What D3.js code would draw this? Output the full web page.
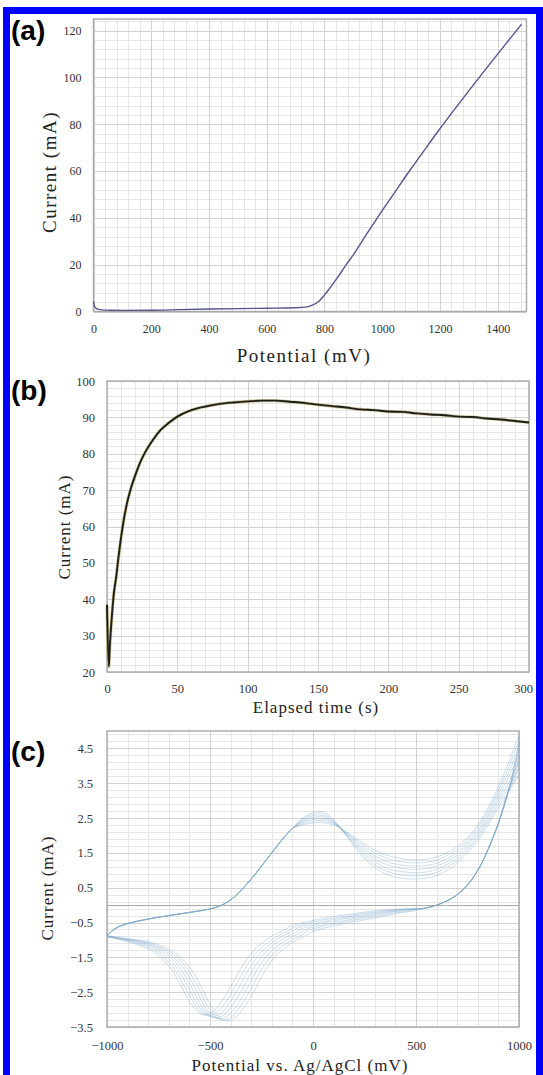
<!DOCTYPE html>
<html><head><meta charset="utf-8">
<script src="https://cdn.jsdelivr.net/npm/d3@7"></script>
<style>body{margin:0;background:#fff}svg{display:block}</style>
</head><body>
<svg id="chart" width="543" height="1075"></svg>
<script>
// ---------- Panel (a): linear sweep ----------
const potA = [0, 3, 8, 15, 30, 60, 100, 200, 300, 400, 500, 600, 700, 740, 760, 780, 800, 820, 840, 860, 880, 900, 950, 1000, 1050, 1100, 1150, 1200, 1250, 1300, 1350, 1400, 1483];
const curA = [4.2, 2.5, 1.5, 1.0, 0.7, 0.55, 0.5, 0.55, 0.8, 1.05, 1.25, 1.4, 1.6, 2.0, 2.8, 4.3, 7.0, 10.2, 13.6, 17.2, 20.8, 24.2, 33.8, 43.1, 52.1, 61.0, 69.6, 78.1, 86.3, 94.3, 102.2, 110.0, 122.8];
const aXTicks = [0, 200, 400, 600, 800, 1000, 1200, 1400];
const aYTicks = [0, 20, 40, 60, 80, 100, 120];

// ---------- Panel (b): chronoamperometry ----------
const timeB = [0, 1.3, 2, 3, 4, 5, 6.5, 8, 10, 12, 14, 17, 20, 24, 28, 33, 38, 44, 50, 60, 70, 80, 90, 100, 110, 120, 130, 140, 150, 160, 170, 180, 190, 200, 210, 220, 230, 240, 250, 260, 270, 280, 290, 300];
const curB = [38.5, 21.5, 27, 33, 38, 42, 46, 51, 57, 62, 66, 70.5, 74, 78, 81, 84, 86.5, 88.5, 90.2, 92, 93, 93.7, 94.1, 94.4, 94.6, 94.6, 94.3, 94.0, 93.5, 93.1, 92.7, 92.2, 92.0, 91.6, 91.5, 91.1, 90.8, 90.6, 90.2, 90.1, 89.7, 89.4, 89.0, 88.6];
const bXTicks = [0, 50, 100, 150, 200, 250, 300];
const bYTicks = [20, 30, 40, 50, 60, 70, 80, 90, 100];

// ---------- Panel (c): cyclic voltammetry (7 cycles) ----------
const fwdCommonX = [-1000, -975, -950, -900, -850, -800, -700, -600, -500, -450, -400, -350, -300, -250, -200, -150, -100];
const fwdCommonY = [-0.88, -0.74, -0.64, -0.53, -0.46, -0.40, -0.30, -0.21, -0.11, -0.02, 0.15, 0.42, 0.75, 1.12, 1.50, 1.88, 2.20];
const fwdCycleX = [-50, 0, 30, 60, 100, 150, 200, 250, 300, 350, 400, 450, 500, 550, 600, 650, 700, 750, 800, 850, 900, 950, 1000];
const fwdCycle1 = [2.50, 2.66, 2.70, 2.65, 2.45, 2.08, 1.68, 1.33, 1.08, 0.90, 0.80, 0.76, 0.75, 0.77, 0.85, 0.99, 1.20, 1.50, 1.85, 2.30, 2.80, 3.25, 3.75];
const fwdCycle2 = [2.47, 2.61, 2.65, 2.60, 2.43, 2.09, 1.73, 1.40, 1.16, 0.99, 0.90, 0.85, 0.84, 0.86, 0.94, 1.08, 1.28, 1.58, 1.93, 2.38, 2.90, 3.39, 3.93];
const fwdCycle3 = [2.43, 2.56, 2.59, 2.55, 2.40, 2.10, 1.77, 1.47, 1.25, 1.08, 0.99, 0.95, 0.93, 0.95, 1.03, 1.16, 1.36, 1.65, 2.00, 2.47, 3.00, 3.53, 4.12];
const fwdCycle4 = [2.40, 2.51, 2.54, 2.51, 2.38, 2.12, 1.82, 1.54, 1.33, 1.18, 1.09, 1.04, 1.03, 1.05, 1.12, 1.25, 1.44, 1.73, 2.08, 2.55, 3.10, 3.68, 4.30];
const fwdCycle5 = [2.37, 2.46, 2.48, 2.46, 2.35, 2.13, 1.86, 1.61, 1.41, 1.27, 1.18, 1.13, 1.12, 1.14, 1.20, 1.33, 1.52, 1.80, 2.15, 2.63, 3.20, 3.82, 4.48];
const fwdCycle6 = [2.33, 2.41, 2.43, 2.41, 2.33, 2.14, 1.91, 1.68, 1.50, 1.36, 1.28, 1.23, 1.21, 1.23, 1.29, 1.42, 1.60, 1.88, 2.23, 2.72, 3.30, 3.96, 4.67];
const fwdCycle7 = [2.30, 2.36, 2.37, 2.36, 2.30, 2.15, 1.95, 1.75, 1.58, 1.45, 1.37, 1.32, 1.30, 1.32, 1.38, 1.50, 1.68, 1.95, 2.30, 2.80, 3.40, 4.10, 4.85];
const revCommonX = [950, 900, 850, 800, 750, 700, 650, 600, 550];
const revCommonY = [3.30, 2.35, 1.60, 1.00, 0.58, 0.30, 0.12, 0.00, -0.08];
const revCycle1X = [500, 400, 300, 200, 100, 0, -30, -80, -130, -180, -230, -280, -330, -380, -430, -480, -530, -580, -630, -680, -780, -900, -1000];
const revCycle1Y = [-0.15, -0.25, -0.37, -0.48, -0.60, -0.75, -0.86, -1.00, -1.20, -1.45, -1.85, -2.40, -2.90, -3.25, -3.32, -3.05, -2.50, -1.95, -1.58, -1.33, -1.08, -0.96, -0.88];
const revCycle2X = [482, 382, 282, 182, 82, -18, -48, -98, -148, -198, -248, -298, -348, -398, -448, -498, -548, -598, -648, -698, -798, -918, -1000];
const revCycle2Y = [-0.15, -0.24, -0.35, -0.45, -0.57, -0.72, -0.84, -0.98, -1.18, -1.43, -1.83, -2.37, -2.87, -3.22, -3.29, -3.02, -2.48, -1.94, -1.57, -1.33, -1.08, -0.96, -0.88];
const revCycle3X = [464, 364, 264, 164, 64, -36, -66, -116, -166, -216, -266, -316, -366, -416, -466, -516, -566, -616, -666, -716, -816, -936, -1000];
const revCycle3Y = [-0.14, -0.22, -0.33, -0.43, -0.55, -0.70, -0.81, -0.95, -1.15, -1.40, -1.80, -2.34, -2.84, -3.19, -3.26, -2.99, -2.45, -1.92, -1.56, -1.32, -1.08, -0.96, -0.89];
const revCycle4X = [446, 346, 246, 146, 46, -54, -84, -134, -184, -234, -284, -334, -384, -434, -484, -534, -584, -634, -684, -734, -834, -954, -1000];
const revCycle4Y = [-0.14, -0.21, -0.31, -0.40, -0.52, -0.68, -0.79, -0.93, -1.13, -1.38, -1.78, -2.31, -2.81, -3.16, -3.23, -2.96, -2.42, -1.90, -1.55, -1.31, -1.07, -0.96, -0.89];
const revCycle5X = [428, 328, 228, 128, 28, -72, -102, -152, -202, -252, -302, -352, -402, -452, -502, -552, -602, -652, -702, -752, -852, -1000];
const revCycle5Y = [-0.13, -0.20, -0.29, -0.38, -0.50, -0.65, -0.76, -0.90, -1.10, -1.35, -1.75, -2.28, -2.78, -3.13, -3.20, -2.93, -2.40, -1.88, -1.54, -1.30, -1.07, -0.90];
const revCycle6X = [410, 310, 210, 110, 10, -90, -120, -170, -220, -270, -320, -370, -420, -470, -520, -570, -620, -670, -720, -770, -870, -1000];
const revCycle6Y = [-0.13, -0.19, -0.27, -0.36, -0.47, -0.63, -0.74, -0.88, -1.08, -1.33, -1.73, -2.25, -2.75, -3.10, -3.17, -2.90, -2.37, -1.86, -1.53, -1.30, -1.07, -0.90];
const revCycle7X = [392, 292, 192, 92, -8, -108, -138, -188, -238, -288, -338, -388, -438, -488, -538, -588, -638, -688, -738, -788, -888, -1000];
const revCycle7Y = [-0.12, -0.17, -0.25, -0.33, -0.45, -0.60, -0.71, -0.85, -1.05, -1.30, -1.70, -2.22, -2.72, -3.07, -3.14, -2.87, -2.35, -1.84, -1.52, -1.29, -1.07, -0.90];
const cXTicks = [-1000, -500, 0, 500, 1000];
const cYTicks = [-3.5, -2.5, -1.5, -0.5, 0.5, 1.5, 2.5, 3.5, 4.5];

// ---------- drawing ----------
const svg = d3.select("#chart");
svg.append("rect").attr("width", 543).attr("height", 1075).attr("fill", "#fff");
svg.append("rect").attr("x", 6.5).attr("y", 10.5).attr("width", 533).attr("height", 1080)
  .attr("fill", "#fff").attr("stroke", "#0000ff").attr("stroke-width", 7);

const SERIF = "'Liberation Serif','Times New Roman',serif";

function drawPanel(c) {
  const g = svg.append("g");
  const x = d3.scaleLinear().domain(c.xd).range([c.l, c.r]);
  const y = d3.scaleLinear().domain(c.yd).range([c.b, c.t]);
  const eps = 1e-9;
  const xMinor = d3.range(c.xd[0], c.xd[1] + eps, c.xMinor);
  const yMinor = d3.range(c.yMinorStart, c.yd[1] + eps, c.yMinor);
  g.selectAll(".vmin").data(xMinor).join("line")
    .attr("x1", d => Math.round(x(d)) + 0.5).attr("x2", d => Math.round(x(d)) + 0.5)
    .attr("y1", c.t).attr("y2", c.b).attr("stroke", "#e6e6e6").attr("stroke-width", 1);
  g.selectAll(".hmin").data(yMinor).join("line")
    .attr("y1", d => Math.round(y(d)) + 0.5).attr("y2", d => Math.round(y(d)) + 0.5)
    .attr("x1", c.l).attr("x2", c.r).attr("stroke", "#e6e6e6").attr("stroke-width", 1);
  g.selectAll(".vmaj").data(c.xTicks).join("line")
    .attr("x1", d => Math.round(x(d)) + 0.5).attr("x2", d => Math.round(x(d)) + 0.5)
    .attr("y1", c.t).attr("y2", c.b).attr("stroke", "#d2d2d2").attr("stroke-width", 1);
  g.selectAll(".hmaj").data(c.yTicks).join("line")
    .attr("y1", d => Math.round(y(d)) + 0.5).attr("y2", d => Math.round(y(d)) + 0.5)
    .attr("x1", c.l).attr("x2", c.r).attr("stroke", "#d2d2d2").attr("stroke-width", 1);
  if (c.zeroLine) {
    g.append("line").attr("x1", c.l).attr("x2", c.r)
      .attr("y1", Math.round(y(0)) + 0.5).attr("y2", Math.round(y(0)) + 0.5)
      .attr("stroke", "#a8a8a8").attr("stroke-width", 1.2);
  }
  g.append("rect").attr("x", c.l).attr("y", c.t).attr("width", c.r - c.l).attr("height", c.b - c.t)
    .attr("fill", "none").attr("stroke", "#a9a9a9").attr("stroke-width", 1.4);

  const ax = g.append("g").attr("transform", `translate(0,${c.b})`)
    .call(d3.axisBottom(x).tickValues(c.xTicks).tickSize(0).tickPadding(c.xPad).tickFormat(c.xFmt || d3.format("d")));
  const ay = g.append("g").attr("transform", `translate(${c.l},0)`)
    .call(d3.axisLeft(y).tickValues(c.yTicks).tickSize(0).tickPadding(c.yPad).tickFormat(c.yFmt || d3.format("d")));
  [ax, ay].forEach(a => {
    a.select(".domain").remove();
    a.selectAll("text").attr("font-family", SERIF).attr("font-size", c.tickFs).attr("fill", "#333");
  });
  if (c.lastXShift) {
    ax.selectAll(".tick").filter(d => d === c.xTicks[c.xTicks.length - 1])
      .select("text").attr("dx", c.lastXShift);
  }

  g.append("text").attr("x", c.xtX).attr("y", c.xtY).attr("text-anchor", "middle")
    .attr("font-family", SERIF).attr("font-size", c.titleFs).attr("letter-spacing", c.ls)
    .attr("fill", "#222").text(c.xTitle);
  g.append("text").attr("transform", `translate(${c.ytX},${c.ytY}) rotate(-90)`).attr("text-anchor", "middle")
    .attr("font-family", SERIF).attr("font-size", c.titleFs).attr("letter-spacing", c.ls)
    .attr("fill", "#222").text(c.yTitle);
  svg.append("text").attr("x", 11).attr("y", c.tagY).attr("font-family", "'Liberation Sans',Arial,sans-serif")
    .attr("font-weight", "bold").attr("font-size", 28).attr("fill", "#000").text(c.tag);
  return { g, x, y };
}

// Panel (a)
const pa = drawPanel({
  l: 93.5, r: 526.5, t: 19, b: 311.5, xd: [0, 1500], yd: [0, 125],
  xTicks: aXTicks, yTicks: aYTicks, xMinor: 40, yMinor: 4, yMinorStart: 0,
  xPad: 13, yPad: 12, tickFs: 12,
  xTitle: "Potential (mV)", xtX: 304, xtY: 362, yTitle: "Current (mA)", ytX: 56, ytY: 172,
  titleFs: 19, ls: 1.5, tag: "(a)", tagY: 40
});
pa.g.append("path").datum(d3.zip(potA, curA))
  .attr("fill", "none").attr("stroke", "#55558f").attr("stroke-width", 1.4)
  .attr("d", d3.line().x(d => pa.x(d[0])).y(d => pa.y(d[1])).curve(d3.curveMonotoneX));

// Panel (b)
const pb = drawPanel({
  l: 107, r: 529, t: 381, b: 672, xd: [0, 300], yd: [20, 100],
  xTicks: bXTicks, yTicks: bYTicks, xMinor: 10, yMinor: 2, yMinorStart: 20,
  xPad: 12, yPad: 12, tickFs: 12.5, lastXShift: -6,
  xTitle: "Elapsed time (s)", xtX: 316, xtY: 713, yTitle: "Current (mA)", ytX: 70, ytY: 527,
  titleFs: 17, ls: 1, tag: "(b)", tagY: 400
});
const lineB = d3.line().x(d => pb.x(d[0])).y(d => pb.y(d[1])).curve(d3.curveMonotoneX);
pb.g.append("path").datum(d3.zip(timeB, curB))
  .attr("fill", "none").attr("stroke", "#b5a55a").attr("stroke-width", 3.2).attr("stroke-opacity", 0.6)
  .attr("d", lineB);
pb.g.append("path").datum(d3.zip(timeB, curB))
  .attr("fill", "none").attr("stroke", "#1e1e1a").attr("stroke-width", 1.9)
  .attr("d", lineB);

// Panel (c)
const pc = drawPanel({
  l: 107, r: 519, t: 731, b: 1027, xd: [-1000, 1000], yd: [-3.5, 5],
  xTicks: cXTicks, yTicks: cYTicks, xMinor: 100, yMinor: 0.2, yMinorStart: -3.5,
  xPad: 14, yPad: 14, tickFs: 12.5, yFmt: d3.format(".1f"),
  xTitle: "Potential vs. Ag/AgCl (mV)", xtX: 300, xtY: 1071, yTitle: "Current (mA)", ytX: 53, ytY: 888,
  titleFs: 17, ls: 1, tag: "(c)", tagY: 761, zeroLine: true
});
const fwdCycles = [fwdCycle1, fwdCycle2, fwdCycle3, fwdCycle4, fwdCycle5, fwdCycle6, fwdCycle7];
const revCyclesX = [revCycle1X, revCycle2X, revCycle3X, revCycle4X, revCycle5X, revCycle6X, revCycle7X];
const revCyclesY = [revCycle1Y, revCycle2Y, revCycle3Y, revCycle4Y, revCycle5Y, revCycle6Y, revCycle7Y];
const cycles = fwdCycles.map((f, i) => [].concat(
  d3.zip(fwdCommonX, fwdCommonY), d3.zip(fwdCycleX, f),
  d3.zip(revCommonX, revCommonY), d3.zip(revCyclesX[i], revCyclesY[i])));
const lineC = d3.line().x(d => pc.x(d[0])).y(d => pc.y(d[1])).curve(d3.curveCatmullRom.alpha(0.5));
pc.g.selectAll(".cv").data(cycles).join("path")
  .attr("fill", "none").attr("stroke", "#7aa4cb").attr("stroke-width", 0.9).attr("stroke-opacity", 0.42)
  .attr("d", lineC);
</script>
</body></html>
